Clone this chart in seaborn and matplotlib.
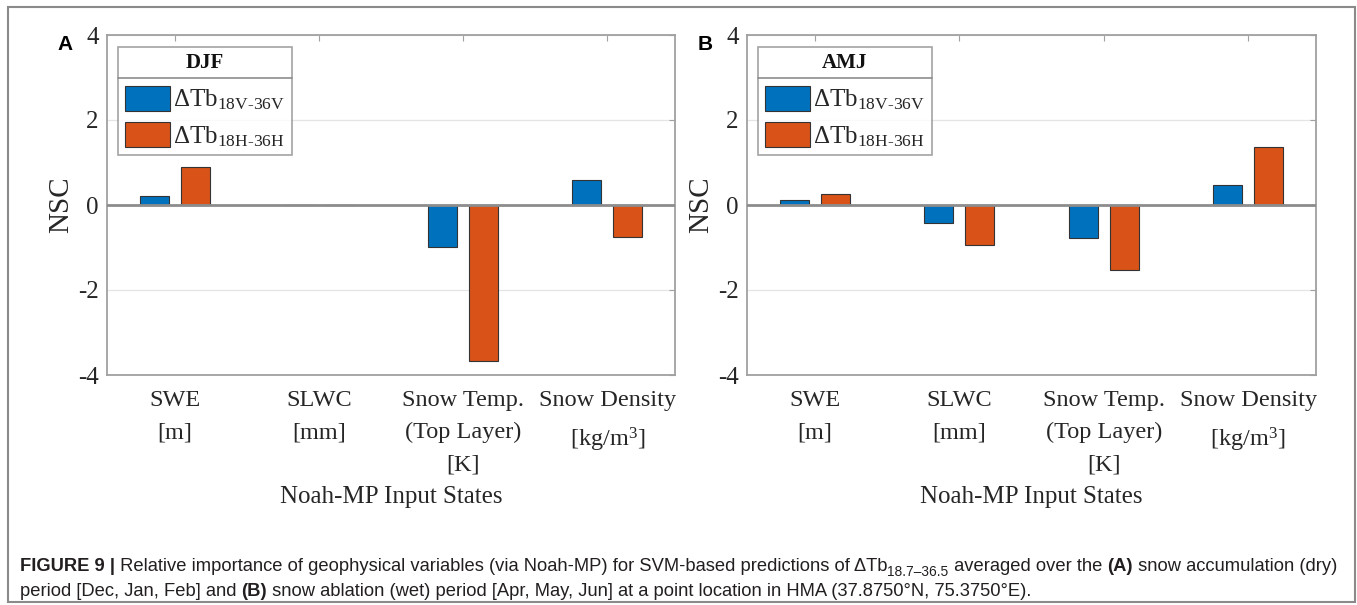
import numpy as np
import pandas as pd
import matplotlib
matplotlib.use("Agg")
import matplotlib.pyplot as plt
import seaborn as sns
from matplotlib.patches import Patch, Rectangle
from matplotlib.lines import Line2D
from matplotlib import font_manager

# ---------------- data ----------------
categories = ["SWE", "SLWC", "Snow Temp.", "Snow Density"]
tick_labels = ["SWE\n[m]", "SLWC\n[mm]", "Snow Temp.\n(Top Layer)\n[K]", "Snow Density\n[kg/m$^3$]"]
bands = ["18V-36V", "18H-36H"]
djf_v = [0.22, 0.0, -0.98, 0.59]
djf_h = [0.89, 0.0, -3.67, -0.75]
amj_v = [0.12, -0.43, -0.78, 0.48]
amj_h = [0.27, -0.95, -1.52, 1.37]
panel_titles = ["DJF", "AMJ"]
panel_letters = ["A", "B"]
yticks = [-4, -2, 0, 2, 4]

colors = ["#0072BD", "#D95319"]

sns.set_style("white")
avail = {f.name for f in font_manager.fontManager.ttflist}
serif = "Liberation Serif"
plt.rcParams["font.family"] = [serif, "DejaVu Serif"]
plt.rcParams["mathtext.fontset"] = "custom"
plt.rcParams["mathtext.rm"] = serif
plt.rcParams["mathtext.it"] = serif + ":italic"
plt.rcParams["mathtext.bf"] = serif + ":bold"

W, H = 1357, 605
fig = plt.figure(figsize=(W / 100, H / 100), dpi=100)
fig.patch.set_facecolor("white")

axes_px = [(107, 675), (747, 1316)]
top_px, bot_px = 35, 375

def make_df(v, h):
    return pd.DataFrame({
        "state": categories * 2,
        "band": [bands[0]] * 4 + [bands[1]] * 4,
        "NSC": list(v) + list(h),
    })

dfs = [make_df(djf_v, djf_h), make_df(amj_v, amj_h)]
tick_color = "#262626"
spine_color = "#a0a0a0"

axs = []
for i, (l, r) in enumerate(axes_px):
    ax = fig.add_axes([l / W, 1 - bot_px / H, (r - l) / W, (bot_px - top_px) / H])
    axs.append(ax)
    ax.set_axisbelow(True)
    ax.grid(True, color="#e4e4e4", lw=0.9)
    sns.barplot(data=dfs[i], x="state", y="NSC", hue="band", order=categories,
                hue_order=bands, palette=colors, width=0.57, gap=0.29,
                edgecolor="#333333", linewidth=0.8, ax=ax, legend=False,
                errorbar=None, saturation=1)
    ax.axhline(0, color="#8c8c8c", lw=2.0, zorder=3)
    ax.set_xlim(-0.47, 3.47)
    ax.set_ylim(-4, 4)
    ax.set_yticks(yticks)
    ax.set_yticklabels([str(t) for t in yticks])
    ax.set_xticks(range(len(categories)))
    ax.set_xticklabels(tick_labels, linespacing=1.72, fontsize=17.5)
    ax.tick_params(axis="both", direction="in", length=4, width=0.8, color=spine_color,
                   labelcolor=tick_color, top=True, right=True)
    ax.tick_params(axis="y", labelsize=18, pad=6)
    ax.tick_params(axis="x", pad=10.5)
    for s in ax.spines.values():
        s.set_color(spine_color)
        s.set_linewidth(1.3)
        s.set_visible(True)
    ax.set_ylabel("NSC", fontsize=21, color=tick_color)
    ax.yaxis.set_label_coords(-0.057, 0.5)
    ax.set_xlabel("Noah-MP Input States", fontsize=18, color=tick_color)
    ax.xaxis.set_label_coords(0.5, -0.36)
    ax.xaxis.label.set_va("center")

    handles = [Patch(facecolor=colors[j], edgecolor="#333333", lw=0.8) for j in range(2)]
    labels = [r"ΔTb$_{\mathrm{18V\text{-}36V}}$", r"ΔTb$_{\mathrm{18H\text{-}36H}}$"]
    leg = ax.legend(handles, labels, loc="upper left", bbox_to_anchor=(0.0194, 0.965),
                    borderaxespad=0, frameon=True, fancybox=False, fontsize=18,
                    handlelength=1.8, handleheight=1.15, handletextpad=0.15,
                    labelspacing=0.4, borderpad=0.26, title=panel_titles[i],
                    title_fontproperties={"weight": "bold", "size": 15, "family": serif})
    leg._legend_box.sep = 9
    leg.get_frame().set_edgecolor("#8c8c8c")
    leg.get_frame().set_linewidth(1.2)
    for t in leg.get_texts():
        t.set_color(tick_color)
    leg.get_title().set_color("#111111")

    fig.text((l - 42) / W, 1 - 45 / H, panel_letters[i], fontsize=15, fontweight="bold",
             family="Liberation Sans", ha="center", va="center", color="black")

# separator line under legend title
fig.canvas.draw()
renderer = fig.canvas.get_renderer()
for ax in axs:
    leg = ax.get_legend()
    fb = leg.get_frame().get_window_extent(renderer)
    tb = leg.get_title().get_window_extent(renderer)
    y = tb.y0 - 5
    fig.add_artist(Line2D([fb.x0 / W, fb.x1 / W], [y / H, y / H], color="#8c8c8c", lw=1.2,
                          transform=fig.transFigure))

# figure border
fig.add_artist(Rectangle((8 / W, 3 / H), (1355 - 8) / W, (H - 7 - 3) / H,
                         transform=fig.transFigure, fill=False, edgecolor="#8a8a8a", lw=1.5))

# caption
cap_font = "Liberation Sans Narrow" if "Liberation Sans Narrow" in avail else "Liberation Sans"
line1 = [("FIGURE 9 |", "bold", False),
         (" Relative importance of geophysical variables (via Noah-MP) for SVM-based predictions of ΔTb", "normal", False),
         ("18.7–36.5", "normal", True),
         (" averaged over the ", "normal", False),
         ("(A)", "bold", False),
         (" snow accumulation (dry)", "normal", False)]
line2 = [("period [Dec, Jan, Feb] and ", "normal", False),
         ("(B)", "bold", False),
         (" snow ablation (wet) period [Apr, May, Jun] at a point location in HMA (37.8750°N, 75.3750°E).", "normal", False)]

def draw_line(pieces, x0, yc, size, draw=True):
    x = x0
    arts = []
    for txt, wt, sub in pieces:
        fs = size * 0.75 if sub else size
        yy = yc - (5 if sub else 0)
        t = fig.text(x / W, yy / H, txt, fontsize=fs, fontweight=wt, family=cap_font,
                     color="#231f20", ha="left", va="baseline")
        bb = t.get_window_extent(renderer)
        x += bb.width
        arts.append(t)
    if not draw:
        for a in arts:
            a.remove()
    return x - x0

base = 13
wid = draw_line(line1, 20, H - 570, base, draw=False)
size = base * (1336 - 20) / wid
draw_line(line1, 20, H - 571, size)
draw_line(line2, 20, H - 596, size)

fig.savefig("out.png", dpi=100, facecolor="white")
